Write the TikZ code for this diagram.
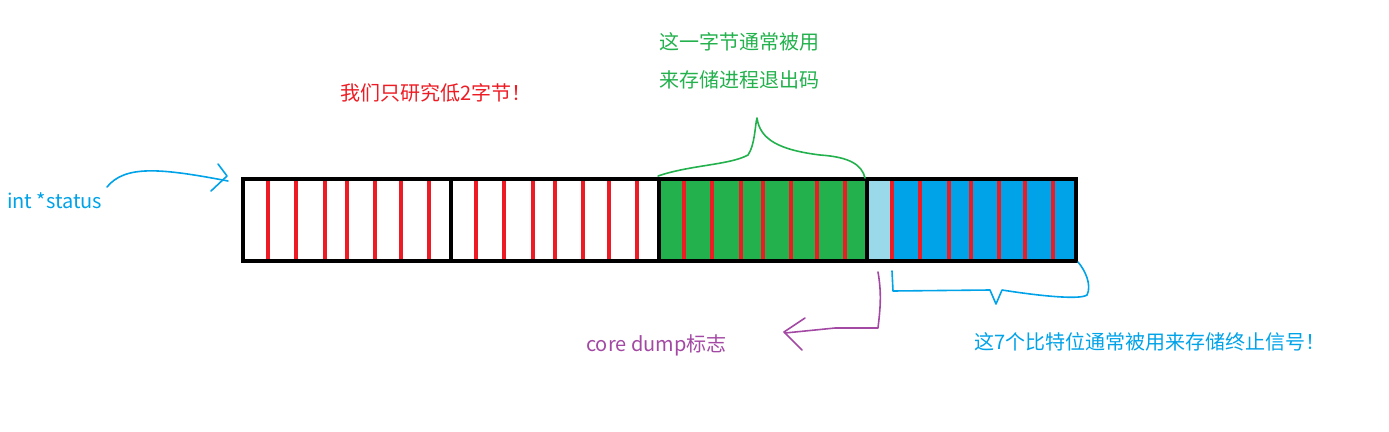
\documentclass[tikz,border=0pt]{standalone}
\usepackage{fontspec}
\setmainfont{Noto Sans CJK SC}
\definecolor{myred}{HTML}{ED1C24}
\definecolor{mygreen}{HTML}{22B14C}
\definecolor{myblue}{HTML}{00A2E8}
\definecolor{mylblue}{HTML}{99D9EA}
\definecolor{mypurple}{HTML}{A349A4}
\begin{document}
\begin{tikzpicture}[x=1pt,y=-1pt,
  lbl/.style={inner sep=0pt,font=\fontsize{20}{24}\selectfont},
  hand/.style={line width=1.6pt,line cap=round,line join=round}]
\useasboundingbox (0,0) rectangle (1389,431);
\fill[mygreen] (659,178) rectangle (867,262);
\fill[mylblue] (867,178) rectangle (892,262);
\fill[myblue] (892,178) rectangle (1077,262);
\foreach \b in {243,451,659,867}{
  \foreach \o in {25,53,82,104,132,158,186}{
    \draw[myred,line width=4pt] (\b+\o,180) -- (\b+\o,262);
  }
}
\draw[line width=4pt] (243,179) rectangle (1076,261);
\foreach \b in {451,659,867}{\draw[line width=4pt] (\b,179) -- (\b,261);}
\node[lbl,anchor=west,text=myblue] (status) at (7,201) {int *status};
\node[lbl,text=myred] (low) at (436,93) {我们只研究低2字节！};
\node[lbl,anchor=west,text=mygreen,align=left] (g1) at (659,42) {这一字节通常被用};
\node[lbl,anchor=west,text=mygreen,align=left] (g2) at (659,80) {来存储进程退出码};
\node[lbl,anchor=west,text=mypurple] (core) at (586,345) {core dump标志};
\node[lbl,anchor=west,text=myblue] (sig) at (974,342) {这7个比特位通常被用来存储终止信号！};
\coordinate (arrend) at (228,181);
\draw[hand,myblue] (107,187) .. controls (125,165) and (160,168) .. (arrend);
\draw[hand,myblue] (218,164) -- (227,176) -- (211,191);
\draw[hand,mygreen] (658,176) .. controls (690,165) and (730,165) .. (748,155)
  .. controls (755,145) and (755,125) .. (757,118)
  .. controls (760,140) and (780,150) .. (820,155)
  .. controls (850,157) and (862,165) .. (865,178);
\draw[hand,myblue] (892,271) -- (893,291) -- (990,290) -- (996,304) -- (1002,290)
  .. controls (1040,296) and (1080,300) .. (1087,295)
  .. controls (1092,285) and (1085,270) .. (1078,262);
\draw[hand,mypurple] (878,272) .. controls (882,295) and (880,310) .. (878,328)
  -- (835,328) -- (785,333);
\draw[hand,mypurple] (805,318) -- (784,332) -- (802,350);
\end{tikzpicture}
\end{document}
